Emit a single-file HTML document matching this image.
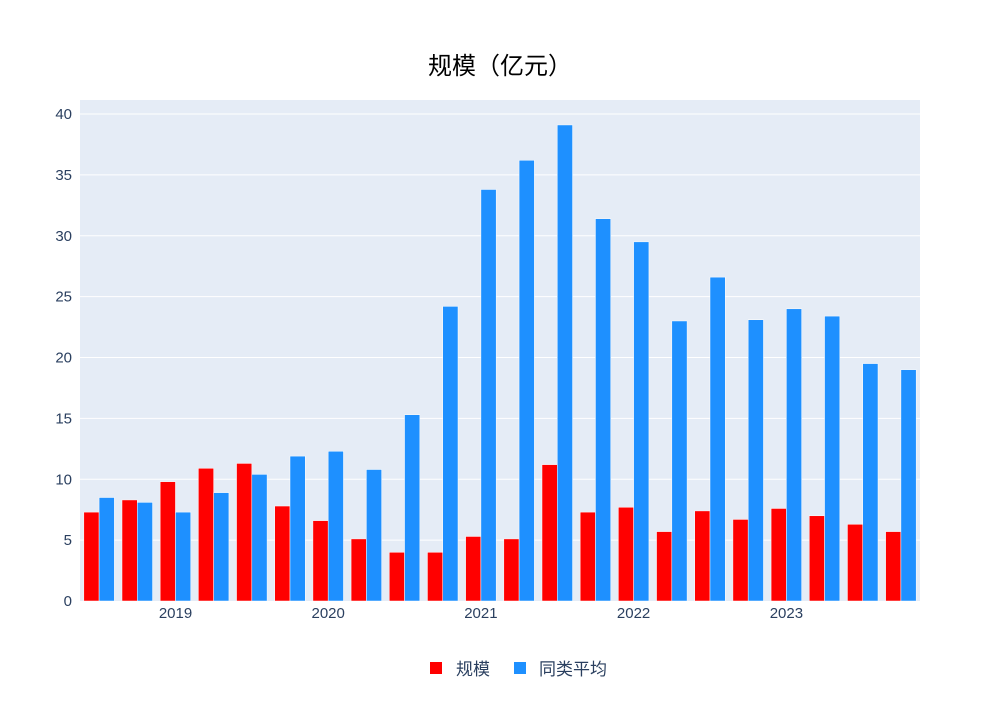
<!DOCTYPE html>
<html><head><meta charset="utf-8"><style>
body{margin:0;background:#fff;}
text{font-family:"Liberation Sans","Noto Sans CJK SC",sans-serif;}
</style></head><body>
<svg id="s" width="1000" height="700" xmlns="http://www.w3.org/2000/svg">
<rect x="0" y="0" width="1000" height="700" fill="#fff"/>
<rect x="80" y="100" width="840" height="501" fill="#e5ecf6"/>
<g id="grid"></g>
<g id="bars"></g>
<text x="500" y="74" text-anchor="middle" font-size="24" fill="#000">规模（亿元）</text>
<g font-size="15" fill="#2a3f5f" text-anchor="middle">
<text x="175.5" y="618">2019</text>
<text x="328.2" y="618">2020</text>
<text x="480.9" y="618">2021</text>
<text x="633.6" y="618">2022</text>
<text x="786.4" y="618">2023</text>
</g>
<rect x="430" y="662" width="12" height="12" fill="#ff0000"/>
<text x="456" y="675" font-size="17" fill="#2a3f5f">规模</text>
<rect x="514" y="662" width="12" height="12" fill="#1e90ff"/>
<text x="539" y="675" font-size="17" fill="#2a3f5f">同类平均</text>
</svg>
<script>
var NS="http://www.w3.org/2000/svg";
var red=[7.3,8.3,9.8,10.9,11.3,7.8,6.6,5.1,4.0,4.0,5.3,5.1,11.2,7.3,7.7,5.7,7.4,6.7,7.6,7.0,6.3,5.7];
var blue=[8.5,8.1,7.3,8.9,10.4,11.9,12.3,10.8,15.3,24.2,33.8,36.2,39.1,31.4,29.5,23.0,26.6,23.1,24.0,23.4,19.5,19.0];
var y0=601,k=12.175,gw=840/22,bw=gw*0.4;
function el(t,a,p){var e=document.createElementNS(NS,t);for(var i in a)e.setAttribute(i,a[i]);p.appendChild(e);return e;}
var g=document.getElementById("grid"),b=document.getElementById("bars");
for(var v=0;v<=40;v+=5){var y=y0-v*k;
 if(v>0)el("line",{x1:80,x2:920,y1:y,y2:y,stroke:"#fff","stroke-width":1},g);
 var t=el("text",{x:72,y:y+5,"text-anchor":"end","font-size":15,fill:"#2a3f5f"},g);t.textContent=v;}
for(var i=0;i<22;i++){var c=80+gw*(i+0.5);
 el("rect",{x:c-bw,y:y0-red[i]*k,width:bw,height:red[i]*k,fill:"#ff0000",stroke:"#fff","stroke-width":0.5},b);
 el("rect",{x:c,y:y0-blue[i]*k,width:bw,height:blue[i]*k,fill:"#1e90ff",stroke:"#fff","stroke-width":0.5},b);}
</script>
</body></html>
